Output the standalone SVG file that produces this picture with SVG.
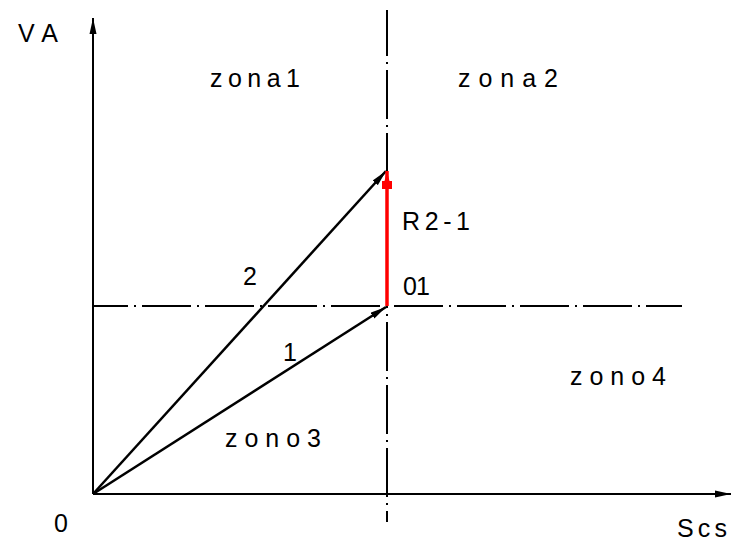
<svg xmlns="http://www.w3.org/2000/svg" width="733" height="542" viewBox="0 0 733 542">
<style>
.t{font-family:"Liberation Sans",Arial,sans-serif;font-size:25px;fill:#000}
.ax{stroke:#000;stroke-width:2;fill:none}
.cl{stroke:#000;stroke-width:2;fill:none;stroke-dasharray:49 6 2 6}
.vec{stroke:#000;stroke-width:2.5;fill:none}
</style>
<defs>
<marker id="ah" viewBox="-16 -4 17 8" markerWidth="17" markerHeight="8" refX="0" refY="0" orient="auto" markerUnits="userSpaceOnUse">
<path d="M0,0 L-16,-3.5 L-16,3.5 Z" fill="#000"/>
</marker>
<marker id="ahr" viewBox="-18 -5 19 10" markerWidth="19" markerHeight="10" refX="0" refY="0" orient="auto" markerUnits="userSpaceOnUse">
<path d="M0,0 L-10,-2.5 L-10,-5 L-18,-5 L-18,5 L-10,5 L-10,2.5 Z" fill="#f00"/>
</marker>
</defs>
<rect width="733" height="542" fill="#fff"/>
<g id="connectors">
<line id="centerline-h" class="cl" x1="93" y1="306" x2="682" y2="306" stroke-dashoffset="14"/>
<line id="centerline-v" class="cl" x1="387" y1="10" x2="387" y2="522" stroke-dashoffset="3"/>
<line id="axis-y" class="ax" x1="93" y1="494" x2="93" y2="18" marker-end="url(#ah)"/>
<line id="axis-x" class="ax" x1="93" y1="494" x2="731" y2="494" marker-end="url(#ah)"/>
<line id="vec1" class="vec" x1="93" y1="494" x2="386" y2="307" marker-end="url(#ah)"/>
<line id="vec2" class="vec" x1="93" y1="494" x2="386" y2="171" marker-end="url(#ah)"/>
<line id="vecR" stroke="#f00" stroke-width="3.5" x1="387" y1="306" x2="387" y2="171" marker-end="url(#ahr)"/>
</g>
<g id="labels">
<text class="t" x="18" y="42" textLength="40" lengthAdjust="spacing">VA</text>
<text class="t" x="54" y="532">0</text>
<text class="t" x="677" y="537" textLength="50" lengthAdjust="spacing">Scs</text>
<text class="t" x="210" y="87" textLength="90" lengthAdjust="spacing">zona1</text>
<text class="t" x="458" y="87" textLength="100" lengthAdjust="spacing">zona2</text>
<text class="t" x="225" y="447" textLength="96" lengthAdjust="spacing">zono3</text>
<text class="t" x="570" y="385" textLength="96" lengthAdjust="spacing">zono4</text>
<text class="t" x="402" y="230" textLength="68" lengthAdjust="spacing">R2-1</text>
<text class="t" x="403" y="295" textLength="27" lengthAdjust="spacing">01</text>
<text class="t" x="243" y="285">2</text>
<text class="t" x="283" y="361">1</text>
</g>
</svg>
